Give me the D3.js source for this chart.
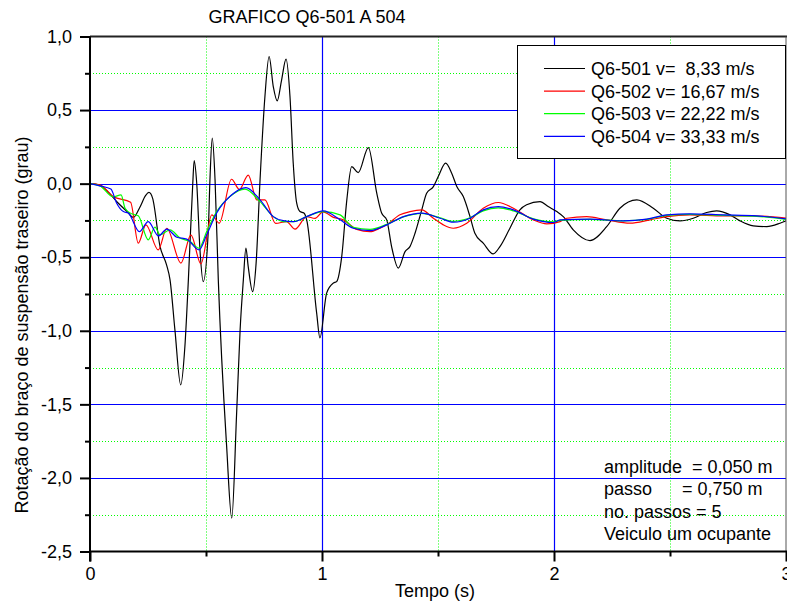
<!DOCTYPE html>
<html><head><meta charset="utf-8">
<script src="https://cdn.jsdelivr.net/npm/d3@7"></script>
<style>body{margin:0;background:#fff}svg{display:block;font-family:Arial,"Liberation Sans",sans-serif}</style>
</head><body><svg id="c" width="787" height="602"></svg>
<script>
const title = "GRAFICO Q6-501 A 504";
const xLabel = "Tempo (s)";
const yLabel = "Rotação do braço de suspensão traseiro (grau)";
const xTicks = [0, 1, 2, 3];
const xMinor = [0.5, 1.5, 2.5];
const yTicks = [1.0, 0.5, 0.0, -0.5, -1.0, -1.5, -2.0, -2.5];
const yMinor = [0.75, 0.25, -0.25, -0.75, -1.25, -1.75, -2.25];
const seriesNames = ["Q6-501 v=  8,33 m/s", "Q6-502 v= 16,67 m/s", "Q6-503 v= 22,22 m/s", "Q6-504 v= 33,33 m/s"];
const seriesColors = ["#000000", "#ff0000", "#00ff00", "#0000ff"];
const notes = ["amplitude  = 0,050 m", "passo      = 0,750 m", "no. passos = 5", "Veiculo um ocupante"];

const t501 = [0,0.04,0.08,0.12,0.16,0.187,0.215,0.24,0.254,0.27,0.302,0.33,0.345,0.366,0.391,0.409,0.424,0.443,0.449,0.46,0.474,0.488,0.51,0.517,0.527,0.539,0.553,0.589,0.611,0.632,0.647,0.661,0.672,0.682,0.701,0.716,0.733,0.754,0.772,0.79,0.807,0.826,0.845,0.862,0.876,0.891,0.905,0.922,0.934,0.977,0.991,1.02,1.049,1.063,1.085,1.107,1.128,1.156,1.2,1.236,1.257,1.279,1.3,1.329,1.358,1.379,1.401,1.43,1.451,1.48,1.501,1.533,1.559,1.581,1.609,1.638,1.659,1.695,1.738,1.767,1.81,1.853,1.882,1.94,1.975,2.012,2.04,2.083,2.155,2.227,2.284,2.357,2.428,2.486,2.543,2.6,2.658,2.701,2.759,2.802,2.859,2.917,2.974,3.0];
const v501 = [0,-0.01,-0.06,-0.13,-0.19,-0.23,-0.16,-0.08,-0.06,-0.10,-0.428,-0.552,-0.654,-0.994,-1.368,-1.107,-0.654,0.003,0.157,0.003,-0.45,-0.666,-0.314,0.026,0.309,0.026,-0.654,-1.787,-2.274,-1.56,-0.994,-0.654,-0.438,-0.564,-0.734,-0.54,0.026,0.592,0.864,0.66,0.563,0.706,0.846,0.592,0.139,-0.133,-0.19,-0.2,-0.246,-0.88,-1.048,-0.744,-0.676,-0.666,-0.496,-0.11,0.116,0.075,0.245,-0.065,-0.2,-0.246,-0.428,-0.574,-0.462,-0.428,-0.337,-0.178,-0.065,-0.02,0.048,0.139,0.071,-0.02,-0.088,-0.224,-0.337,-0.404,-0.477,-0.428,-0.303,-0.178,-0.144,-0.122,-0.156,-0.19,-0.224,-0.314,-0.387,-0.292,-0.167,-0.11,-0.167,-0.235,-0.253,-0.235,-0.196,-0.185,-0.212,-0.253,-0.287,-0.292,-0.269,-0.253];

const t502 = [0,0.043,0.1,0.175,0.208,0.241,0.294,0.331,0.392,0.435,0.478,0.525,0.557,0.61,0.644,0.682,0.719,0.754,0.8,0.847,0.884,0.934,0.97,1.004,1.049,1.092,1.15,1.207,1.25,1.279,1.336,1.379,1.43,1.48,1.523,1.566,1.624,1.695,1.76,1.825,1.911,1.969,2.026,2.055,2.141,2.227,2.328,2.414,2.486,2.586,2.73,2.859,3.0];
const v502 = [0,-0.008,-0.088,-0.126,-0.404,-0.28,-0.45,-0.303,-0.54,-0.348,-0.545,-0.212,-0.269,0.03,-0.04,0.058,-0.11,-0.11,-0.27,-0.258,-0.309,-0.224,-0.236,-0.192,-0.229,-0.246,-0.311,-0.326,-0.303,-0.28,-0.212,-0.19,-0.178,-0.235,-0.28,-0.303,-0.269,-0.167,-0.128,-0.167,-0.246,-0.273,-0.258,-0.235,-0.224,-0.246,-0.269,-0.246,-0.224,-0.212,-0.219,-0.219,-0.235];

const t503 = [0,0.043,0.1,0.134,0.151,0.18,0.208,0.251,0.28,0.302,0.345,0.388,0.431,0.47,0.503,0.546,0.603,0.668,0.733,0.79,0.833,0.877,0.934,1.006,1.078,1.135,1.207,1.279,1.351,1.43,1.509,1.566,1.638,1.695,1.76,1.825,1.911,1.997,2.026,2.155,2.299,2.4,2.486,2.586,2.73,2.874,3.0];
const v503 = [0,-0.015,-0.09,-0.076,-0.167,-0.205,-0.219,-0.382,-0.296,-0.348,-0.314,-0.37,-0.394,-0.438,-0.326,-0.19,-0.088,-0.037,-0.122,-0.224,-0.258,-0.258,-0.224,-0.19,-0.212,-0.297,-0.311,-0.277,-0.226,-0.202,-0.232,-0.256,-0.232,-0.185,-0.165,-0.185,-0.239,-0.26,-0.25,-0.243,-0.253,-0.243,-0.216,-0.209,-0.216,-0.222,-0.243];

const t504 = [0,0.043,0.09,0.115,0.144,0.165,0.213,0.251,0.295,0.331,0.374,0.417,0.47,0.503,0.546,0.611,0.672,0.733,0.79,0.833,0.877,0.934,1.006,1.078,1.135,1.207,1.279,1.351,1.43,1.509,1.566,1.638,1.695,1.76,1.825,1.911,1.997,2.026,2.155,2.299,2.4,2.486,2.586,2.73,2.874,3.0];
const v504 = [0,-0.015,-0.037,-0.133,-0.19,-0.2,-0.326,-0.258,-0.355,-0.309,-0.364,-0.377,-0.45,-0.348,-0.2,-0.076,-0.027,-0.11,-0.224,-0.251,-0.258,-0.224,-0.185,-0.246,-0.303,-0.319,-0.28,-0.224,-0.2,-0.235,-0.262,-0.235,-0.178,-0.156,-0.178,-0.241,-0.264,-0.246,-0.241,-0.253,-0.241,-0.212,-0.205,-0.212,-0.219,-0.239];

const seriesT = [t501, t502, t503, t504];
const seriesV = [v501, v502, v503, v504];

const svg = d3.select("#c");
const L = 90, R = 786, T = 36.5, B = 551.5;
const x = d3.scaleLinear().domain([0, 3]).range([L, R]);
const y = d3.scaleLinear().domain([-2.5, 1]).range([B, T]);

svg.append("defs").append("clipPath").attr("id", "clip")
  .append("rect").attr("x", L).attr("y", T).attr("width", R - L).attr("height", B - T);

// minor grid (green dotted)
const g = svg.append("g");
g.selectAll(".ym").data(yMinor).join("line")
  .attr("x1", L).attr("x2", R).attr("y1", d => Math.round(y(d)) + 0.5).attr("y2", d => Math.round(y(d)) + 0.5)
  .attr("stroke", "#00ff00").attr("stroke-width", 1).attr("stroke-dasharray", "1,2");
g.selectAll(".xm").data(xMinor).join("line")
  .attr("y1", T).attr("y2", B).attr("x1", d => Math.round(x(d)) + 0.5).attr("x2", d => Math.round(x(d)) + 0.5)
  .attr("stroke", "#00ff00").attr("stroke-width", 1).attr("stroke-dasharray", "1,2");
// major grid (blue)
g.selectAll(".yM").data(yTicks.filter(d => d < 1 && d > -2.5)).join("line")
  .attr("x1", L).attr("x2", R).attr("y1", d => Math.round(y(d)) + 0.5).attr("y2", d => Math.round(y(d)) + 0.5)
  .attr("stroke", "#0000ff").attr("stroke-width", 1.2);
g.selectAll(".xM").data(xTicks.filter(d => d > 0 && d < 3)).join("line")
  .attr("y1", T).attr("y2", B).attr("x1", d => Math.round(x(d)) + 0.5).attr("x2", d => Math.round(x(d)) + 0.5)
  .attr("stroke", "#0000ff").attr("stroke-width", 1.2);

// series
const line = d3.line().curve(d3.curveMonotoneX).x(d => x(d[0])).y(d => y(d[1]));
const lines = svg.append("g").attr("clip-path", "url(#clip)");
[0, 1, 2, 3].forEach(i => {
  const pts = seriesT[i].map((t, k) => [t, seriesV[i][k]]);
  lines.append("path").attr("d", line(pts)).attr("fill", "none")
    .attr("stroke", seriesColors[i]).attr("stroke-width", 1.2);
});

// frame
svg.append("line").attr("x1", L).attr("x2", R + 1).attr("y1", T).attr("y2", T).attr("stroke", "#222").attr("stroke-width", 2);
svg.append("line").attr("x1", R).attr("x2", R).attr("y1", T).attr("y2", B).attr("stroke", "#555").attr("stroke-width", 1);

// axes
const yAxis = d3.axisLeft(y).tickValues(yTicks).tickSize(10).tickPadding(8)
  .tickFormat(d => d3.format(".1f")(d).replace(".", ",").replace("−", "-"));
const ya = svg.append("g").attr("transform", `translate(${L},0)`).call(yAxis);
ya.select(".domain").attr("stroke-width", 2).attr("d", `M0,${T}V${B + 10}`);
ya.selectAll(".tick line").attr("stroke-width", 2);
ya.selectAll(".tick text").attr("font-size", 18).attr("font-family", "Arial, 'Liberation Sans', sans-serif").attr("fill", "#000");
svg.append("g").attr("transform", `translate(${L},0)`).call(d3.axisLeft(y).tickValues(yMinor).tickSize(5).tickFormat(""))
  .call(s => s.select(".domain").remove()).selectAll("line").attr("stroke-width", 2);

const xAxis = d3.axisBottom(x).tickValues(xTicks).tickSize(10).tickPadding(6).tickFormat(d3.format("d"));
const xa = svg.append("g").attr("transform", `translate(0,${B})`).call(xAxis);
xa.select(".domain").attr("stroke-width", 2).attr("d", `M${L},0H${R + 1}`);
xa.selectAll(".tick line").attr("stroke-width", 2);
xa.selectAll(".tick text").attr("font-size", 18).attr("font-family", "Arial, 'Liberation Sans', sans-serif").attr("fill", "#000");
svg.append("g").attr("transform", `translate(0,${B})`).call(d3.axisBottom(x).tickValues(xMinor).tickSize(5).tickFormat(""))
  .call(s => s.select(".domain").remove()).selectAll("line").attr("stroke-width", 2);

// titles
svg.append("text").attr("x", 307).attr("y", 23).attr("text-anchor", "middle").attr("font-size", 18).text(title);
svg.append("text").attr("x", 435).attr("y", 597).attr("text-anchor", "middle").attr("font-size", 18).text(xLabel);
svg.append("text").attr("transform", "translate(28,325) rotate(-90)").attr("text-anchor", "middle").attr("font-size", 18).text(yLabel);

// legend
const lg = svg.append("g");
lg.append("rect").attr("x", 517.5).attr("y", 45.5).attr("width", 268).attr("height", 113).attr("fill", "#fff").attr("stroke", "#000").attr("stroke-width", 1);
seriesNames.forEach((n, i) => {
  const cy = 68.5 + i * 22.6;
  lg.append("line").attr("x1", 544).attr("x2", 585).attr("y1", cy).attr("y2", cy).attr("stroke", seriesColors[i]).attr("stroke-width", 1.2);
  lg.append("text").attr("x", 591).attr("y", cy + 6.5).attr("font-size", 18).attr("xml:space", "preserve").style("white-space", "pre").text(n);
});

// notes
notes.forEach((n, i) => {
  svg.append("text").attr("x", 604).attr("y", 473 + i * 22.4).attr("font-size", 18).style("white-space", "pre").text(n);
});
</script></body></html>
